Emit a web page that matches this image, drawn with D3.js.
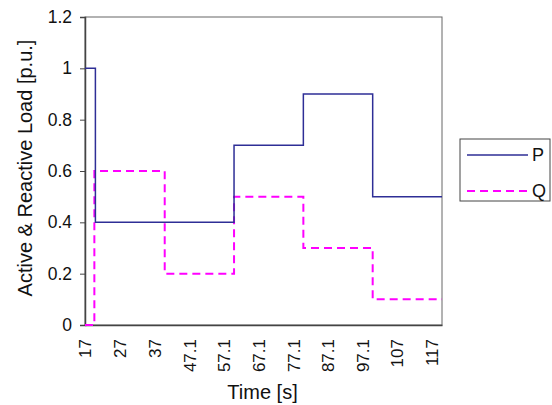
<!DOCTYPE html>
<html>
<head>
<meta charset="utf-8">
<script src="https://cdn.jsdelivr.net/npm/d3@7"></script>
<style>
  body { margin: 0; background: #fff; }
  text { font-family: Arial, "Liberation Sans", sans-serif; fill: #111; }
</style>
</head>
<body>
<svg id="chart" width="552" height="405"></svg>
<script>
// step breakpoints (time in s) and load values [p.u.]
const pTimes = [17, 20, 60, 80, 100, 120];
const pValues = [1, 0.4, 0.7, 0.9, 0.5, 0.5];
const qTimes = [17, 19.7, 40, 60, 80, 100, 120];
const qValues = [0, 0.6, 0.2, 0.5, 0.3, 0.1, 0.1];

const xTicks = [17, 27, 37, 47.1, 57.1, 67.1, 77.1, 87.1, 97.1, 107, 117];
const yTicks = [0, 0.2, 0.4, 0.6, 0.8, 1, 1.2];

const svg = d3.select("#chart");
const margin = {left: 85, right: 110, top: 17, bottom: 80};
const width = 552 - margin.left - margin.right;
const height = 405 - margin.top - margin.bottom;

const x = d3.scaleLinear().domain([17, 120]).range([0, width]);
const y = d3.scaleLinear().domain([0, 1.2]).range([height, 0]);

const g = svg.append("g").attr("transform", `translate(${margin.left},${margin.top})`);

// plot frame
g.append("rect")
  .attr("width", width)
  .attr("height", height)
  .attr("fill", "none")
  .attr("stroke", "#666")
  .attr("stroke-width", 1);

const yAxis = g.append("g")
  .call(d3.axisLeft(y).tickValues(yTicks).tickSize(5).tickPadding(8)
    .tickFormat(d => d3.format("~g")(d)));
yAxis.select(".domain").attr("stroke", "#444").attr("stroke-width", 1.5);
yAxis.selectAll("line").attr("stroke", "#444");
yAxis.selectAll("text").style("font-size", "17.5px").attr("fill", "#111");

const xAxis = g.append("g")
  .attr("transform", `translate(0,${height})`)
  .call(d3.axisBottom(x).tickValues(xTicks).tickSize(0)
    .tickFormat(d => String(d)));
xAxis.select(".domain").attr("stroke", "#444").attr("stroke-width", 1.5);
xAxis.selectAll("text")
  .style("font-size", "17px")
  .attr("fill", "#111")
  .attr("transform", "rotate(-90)")
  .attr("text-anchor", "end")
  .attr("dy", "0.35em")
  .attr("x", -14)
  .attr("y", 0);

const stepData = (ts, vs) => ts.map((t, i) => [t, vs[i]]);
const line = d3.line().x(d => x(d[0])).y(d => y(d[1])).curve(d3.curveStepAfter);

g.append("path")
  .datum(stepData(qTimes, qValues))
  .attr("fill", "none")
  .attr("stroke", "#ff00ff")
  .attr("stroke-width", 2)
  .attr("stroke-dasharray", "8,5")
  .attr("d", line);

g.append("path")
  .datum(stepData(pTimes, pValues))
  .attr("fill", "none")
  .attr("stroke", "#2e2e96")
  .attr("stroke-width", 1.5)
  .attr("d", line);

// axis titles
svg.append("text")
  .attr("transform", `translate(25,168) rotate(-90)`)
  .attr("text-anchor", "middle")
  .attr("dy", "0.35em")
  .style("font-size", "20px")
  .text("Active & Reactive Load [p.u.]");

svg.append("text")
  .attr("x", margin.left + width / 2 - 1)
  .attr("y", 392)
  .attr("text-anchor", "middle")
  .attr("dy", "0.35em")
  .style("font-size", "20px")
  .text("Time [s]");

// legend
const legend = svg.append("g").attr("transform", "translate(460,139)");
legend.append("rect")
  .attr("width", 90).attr("height", 62)
  .attr("fill", "#fff").attr("stroke", "#444").attr("stroke-width", 1);
const items = [
  {name: "P", color: "#2e2e96", dash: null, w: 1.5},
  {name: "Q", color: "#ff00ff", dash: "8,5", w: 2}
];
items.forEach((it, i) => {
  const yy = 16 + i * 36;
  legend.append("line")
    .attr("x1", 7).attr("x2", 68).attr("y1", yy).attr("y2", yy)
    .attr("stroke", it.color).attr("stroke-width", it.w)
    .attr("stroke-dasharray", it.dash);
  legend.append("text")
    .attr("x", 72).attr("y", yy).attr("dy", "0.35em")
    .style("font-size", "18px").text(it.name);
});
</script>
</body>
</html>
